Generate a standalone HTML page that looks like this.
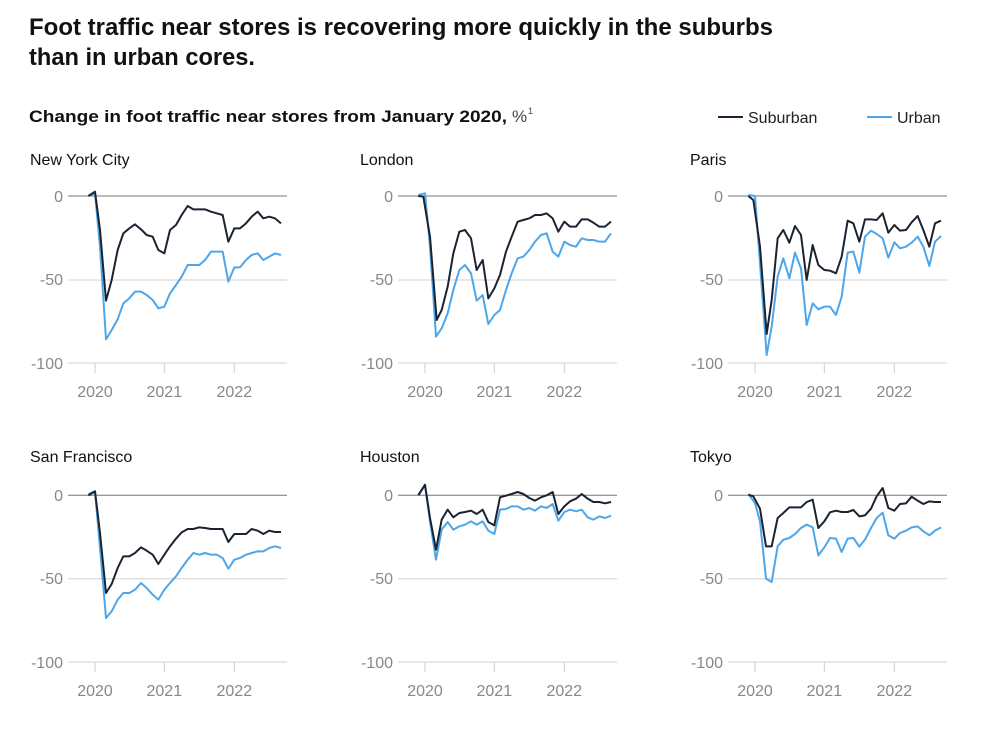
<!DOCTYPE html>
<html><head><meta charset="utf-8"><style>
html,body{margin:0;padding:0;background:#fff;}
svg{display:block;font-family:"Liberation Sans",sans-serif;}
.t{font-size:16px;fill:#888;}
.ct{font-size:16px;fill:#111;}
.g{stroke:#d0d0d0;stroke-width:1;}
.z{stroke:#777;stroke-width:1;}
.tk{stroke:#c8ccd4;stroke-width:1;}
.s{fill:none;stroke:#1b2330;stroke-width:6;stroke-linejoin:round;}
.u{fill:none;stroke:#4ea6ea;stroke-width:6;stroke-linejoin:round;}
</style></head><body>
<svg width="1004" height="733" viewBox="0 0 1004 733" xmlns="http://www.w3.org/2000/svg">
<text x="29" y="35" font-size="24" font-weight="bold" fill="#111" textLength="744" lengthAdjust="spacingAndGlyphs">Foot traffic near stores is recovering more quickly in the suburbs</text>
<text x="29" y="65" font-size="24" font-weight="bold" fill="#111" textLength="226" lengthAdjust="spacingAndGlyphs">than in urban cores.</text>
<text x="29" y="122" font-size="17" font-weight="bold" fill="#111" textLength="478" lengthAdjust="spacingAndGlyphs">Change in foot traffic near stores from January 2020,</text>
<text x="512" y="122" font-size="17" fill="#444">%</text><text x="528" y="114" font-size="9" fill="#444">1</text>
<line x1="718" y1="117" x2="743" y2="117" stroke="#1b2330" stroke-width="2"/>
<text x="748" y="123" font-size="16" fill="#222">Suburban</text>
<line x1="867" y1="117" x2="892" y2="117" stroke="#4ea6ea" stroke-width="2"/>
<text x="897" y="123" font-size="16" fill="#222">Urban</text>

<!-- Row 1 -->
<g>
<text class="ct" x="30" y="165">New York City</text>
<text class="ct" x="360" y="165">London</text>
<text class="ct" x="690" y="165">Paris</text>
<text class="ct" x="30" y="462">San Francisco</text>
<text class="ct" x="360" y="462">Houston</text>
<text class="ct" x="690" y="462">Tokyo</text>
</g>

<!-- axes generator by hand: panel x offsets 20,350,680 -->
<g id="axes">
<!-- row1 -->
<g transform="translate(20,0)">
<line class="g" x1="48" y1="280" x2="267" y2="280"/><line class="g" x1="48" y1="363" x2="267" y2="363"/><line class="z" x1="48" y1="196" x2="267" y2="196"/>
<line class="tk" x1="75" y1="363" x2="75" y2="373"/><line class="tk" x1="144.3" y1="363" x2="144.3" y2="373"/><line class="tk" x1="214.3" y1="363" x2="214.3" y2="373"/>
<text class="t" x="43" y="202" text-anchor="end">0</text><text class="t" x="43" y="285" text-anchor="end">-50</text><text class="t" x="43" y="369" text-anchor="end">-100</text>
<text class="t" x="75" y="397" text-anchor="middle">2020</text><text class="t" x="144.3" y="397" text-anchor="middle">2021</text><text class="t" x="214.3" y="397" text-anchor="middle">2022</text>
</g>
<g transform="translate(350,0)">
<line class="g" x1="48" y1="280" x2="267" y2="280"/><line class="g" x1="48" y1="363" x2="267" y2="363"/><line class="z" x1="48" y1="196" x2="267" y2="196"/>
<line class="tk" x1="75" y1="363" x2="75" y2="373"/><line class="tk" x1="144.3" y1="363" x2="144.3" y2="373"/><line class="tk" x1="214.3" y1="363" x2="214.3" y2="373"/>
<text class="t" x="43" y="202" text-anchor="end">0</text><text class="t" x="43" y="285" text-anchor="end">-50</text><text class="t" x="43" y="369" text-anchor="end">-100</text>
<text class="t" x="75" y="397" text-anchor="middle">2020</text><text class="t" x="144.3" y="397" text-anchor="middle">2021</text><text class="t" x="214.3" y="397" text-anchor="middle">2022</text>
</g>
<g transform="translate(680,0)">
<line class="g" x1="48" y1="280" x2="267" y2="280"/><line class="g" x1="48" y1="363" x2="267" y2="363"/><line class="z" x1="48" y1="196" x2="267" y2="196"/>
<line class="tk" x1="75" y1="363" x2="75" y2="373"/><line class="tk" x1="144.3" y1="363" x2="144.3" y2="373"/><line class="tk" x1="214.3" y1="363" x2="214.3" y2="373"/>
<text class="t" x="43" y="202" text-anchor="end">0</text><text class="t" x="43" y="285" text-anchor="end">-50</text><text class="t" x="43" y="369" text-anchor="end">-100</text>
<text class="t" x="75" y="397" text-anchor="middle">2020</text><text class="t" x="144.3" y="397" text-anchor="middle">2021</text><text class="t" x="214.3" y="397" text-anchor="middle">2022</text>
</g>
<!-- row2 -->
<g transform="translate(20,0)">
<line class="g" x1="48" y1="578.7" x2="267" y2="578.7"/><line class="g" x1="48" y1="662" x2="267" y2="662"/><line class="z" x1="48" y1="495.3" x2="267" y2="495.3"/>
<line class="tk" x1="75" y1="662" x2="75" y2="672"/><line class="tk" x1="144.3" y1="662" x2="144.3" y2="672"/><line class="tk" x1="214.3" y1="662" x2="214.3" y2="672"/>
<text class="t" x="43" y="501" text-anchor="end">0</text><text class="t" x="43" y="584" text-anchor="end">-50</text><text class="t" x="43" y="668" text-anchor="end">-100</text>
<text class="t" x="75" y="696" text-anchor="middle">2020</text><text class="t" x="144.3" y="696" text-anchor="middle">2021</text><text class="t" x="214.3" y="696" text-anchor="middle">2022</text>
</g>
<g transform="translate(350,0)">
<line class="g" x1="48" y1="578.7" x2="267" y2="578.7"/><line class="g" x1="48" y1="662" x2="267" y2="662"/><line class="z" x1="48" y1="495.3" x2="267" y2="495.3"/>
<line class="tk" x1="75" y1="662" x2="75" y2="672"/><line class="tk" x1="144.3" y1="662" x2="144.3" y2="672"/><line class="tk" x1="214.3" y1="662" x2="214.3" y2="672"/>
<text class="t" x="43" y="501" text-anchor="end">0</text><text class="t" x="43" y="584" text-anchor="end">-50</text><text class="t" x="43" y="668" text-anchor="end">-100</text>
<text class="t" x="75" y="696" text-anchor="middle">2020</text><text class="t" x="144.3" y="696" text-anchor="middle">2021</text><text class="t" x="214.3" y="696" text-anchor="middle">2022</text>
</g>
<g transform="translate(680,0)">
<line class="g" x1="48" y1="578.7" x2="267" y2="578.7"/><line class="g" x1="48" y1="662" x2="267" y2="662"/><line class="z" x1="48" y1="495.3" x2="267" y2="495.3"/>
<line class="tk" x1="75" y1="662" x2="75" y2="672"/><line class="tk" x1="144.3" y1="662" x2="144.3" y2="672"/><line class="tk" x1="214.3" y1="662" x2="214.3" y2="672"/>
<text class="t" x="43" y="501" text-anchor="end">0</text><text class="t" x="43" y="584" text-anchor="end">-50</text><text class="t" x="43" y="668" text-anchor="end">-100</text>
<text class="t" x="75" y="696" text-anchor="middle">2020</text><text class="t" x="144.3" y="696" text-anchor="middle">2021</text><text class="t" x="214.3" y="696" text-anchor="middle">2022</text>
</g>
</g>

<!-- NYC -->
<g transform="translate(20,180) scale(0.33333)">
<polyline class="u" points="205,48 225,40 240,200 258,478 275,450 293,418 310,370 328,355 345,335 363,335 380,345 398,360 415,385 433,380 450,340 468,315 485,290 503,255 538,255 555,240 573,215 608,215 625,305 643,262 660,262 678,240 695,225 713,220 730,240 748,230 765,220 783,225"/>
<polyline class="s" points="205,48 225,35 240,150 258,362 275,300 293,210 310,160 328,145 345,133 363,148 380,165 398,170 415,210 433,220 450,150 468,135 485,105 503,78 520,88 555,88 573,95 590,100 608,105 625,185 643,145 660,145 678,130 695,110 713,95 730,115 748,110 765,115 783,130"/>
</g>
<!-- London -->
<g transform="translate(350,180) scale(0.33333)">
<polyline class="u" points="205,45 225,40 240,200 258,470 275,445 293,400 310,330 328,270 345,255 363,280 380,362 398,345 415,432 433,405 450,390 468,330 485,280 503,235 520,230 538,210 555,185 573,165 590,160 608,215 625,230 643,185 660,195 678,200 695,175 713,180 730,180 748,185 765,185 783,160"/>
<polyline class="s" points="205,48 220,50 240,170 260,420 275,390 293,320 310,220 328,155 345,150 363,175 380,270 398,240 415,355 433,325 450,285 468,215 485,170 503,125 520,120 538,115 555,105 573,105 590,100 608,115 625,155 643,125 660,140 678,140 695,118 713,118 730,128 748,140 765,140 783,125"/>
</g>
<!-- Paris -->
<g transform="translate(680,180) scale(0.33333)">
<polyline class="u" points="205,45 225,48 240,250 260,525 275,440 293,290 310,235 328,295 345,218 363,265 380,435 398,370 415,388 433,380 450,380 468,405 485,350 503,218 520,215 538,278 555,170 573,152 590,162 608,175 625,233 643,187 660,205 678,200 695,188 713,170 730,200 748,258 765,185 783,168"/>
<polyline class="s" points="205,48 220,60 240,200 260,462 275,360 293,175 310,150 328,188 345,138 363,165 380,300 398,195 415,255 433,270 450,272 468,280 485,230 503,122 520,130 538,185 555,118 573,118 590,120 608,100 625,158 643,135 660,152 678,150 695,127 713,108 730,150 748,200 765,130 783,122"/>
</g>
<!-- SF -->
<g transform="translate(20,478) scale(0.33333)">
<polyline class="u" points="205,48 225,40 240,210 258,420 275,400 293,365 310,345 328,345 345,335 363,315 380,330 398,350 415,365 433,335 450,315 468,295 485,270 503,245 520,225 538,230 555,225 573,230 590,230 608,240 625,272 643,245 660,240 678,230 695,225 713,220 730,220 748,210 765,205 783,210"/>
<polyline class="s" points="205,52 225,40 240,165 258,345 275,318 293,270 310,235 328,235 345,225 363,208 380,218 398,230 415,258 433,230 450,205 468,182 485,163 503,153 520,153 538,148 555,150 573,153 590,153 608,153 625,192 643,168 660,168 678,168 695,153 713,158 730,168 748,158 765,162 783,162"/>
</g>
<!-- Houston -->
<g transform="translate(350,478) scale(0.33333)">
<polyline class="u" points="205,50 225,22 240,130 258,245 275,155 293,132 310,155 328,145 345,140 363,130 380,140 398,130 415,158 433,168 450,95 468,93 485,85 503,85 520,95 538,90 555,98 573,85 590,90 608,78 625,128 643,102 660,95 678,100 695,95 713,118 730,125 748,115 765,120 783,113"/>
<polyline class="s" points="205,52 225,20 240,120 258,215 275,125 293,95 310,118 328,105 345,102 363,98 380,108 398,95 415,132 433,142 450,58 468,53 485,48 503,42 520,48 538,60 555,68 573,58 590,52 608,42 625,108 643,85 660,70 678,62 695,48 713,62 730,72 748,72 765,76 783,72"/>
</g>
<!-- Tokyo -->
<g transform="translate(680,478) scale(0.33333)">
<polyline class="u" points="205,48 225,75 240,130 258,302 275,312 293,205 310,185 328,180 345,168 363,150 380,140 398,148 415,232 433,208 450,180 468,182 485,222 503,182 520,180 538,206 555,185 573,150 590,120 608,104 625,172 643,182 660,165 678,158 695,148 713,145 730,160 748,172 765,158 783,148"/>
<polyline class="s" points="205,50 220,55 240,92 258,205 275,205 293,120 310,105 328,88 345,88 363,88 380,72 398,65 415,150 433,130 450,103 468,98 485,102 503,102 520,96 538,115 555,112 573,92 590,55 608,30 625,90 643,98 660,78 678,76 695,56 713,68 730,78 748,70 765,72 783,72"/>
</g>
</svg>
</body></html>
